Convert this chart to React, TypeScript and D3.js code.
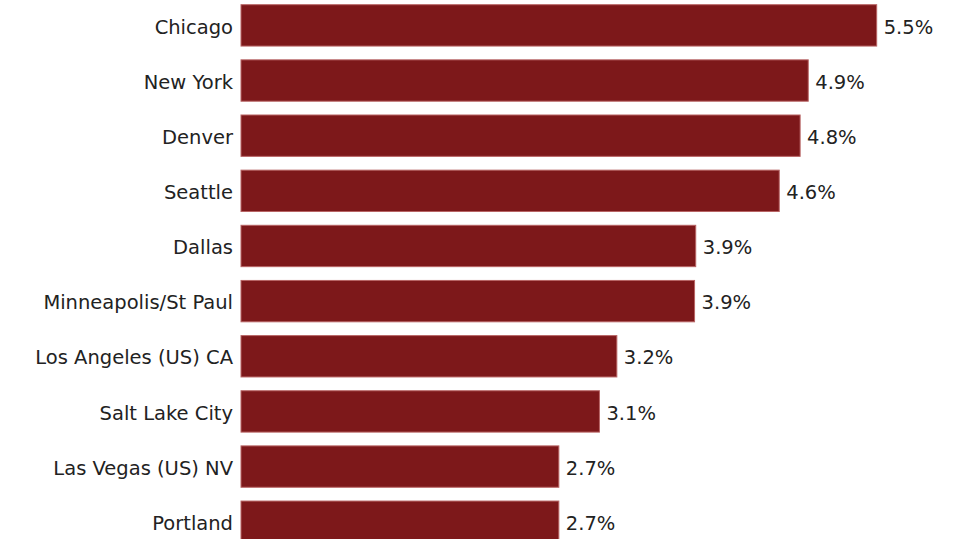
import React from 'react';
import * as d3 from 'd3';

const cities = [
  'Chicago',
  'New York',
  'Denver',
  'Seattle',
  'Dallas',
  'Minneapolis/St Paul',
  'Los Angeles (US) CA',
  'Salt Lake City',
  'Las Vegas (US) NV',
  'Portland',
];
const rates = [5.48, 4.89, 4.82, 4.64, 3.92, 3.91, 3.24, 3.09, 2.74, 2.74];

const WIDTH = 954;
const HEIGHT = 539;

const App: React.FC = () => {
  const x = d3.scaleLinear().domain([0, 6]).range([241, 937]);
  const y = d3
    .scaleBand<string>()
    .domain(cities)
    .range([-2.2, 549.3])
    .paddingInner(0.25)
    .paddingOuter(0.125);
  const fmt = (v: number) => d3.format('.1f')(v) + '%';
  const font = '"DejaVu Sans", Verdana, sans-serif';

  return (
    <svg
      width={WIDTH}
      height={HEIGHT}
      style={{ position: 'absolute', left: 0, top: 0, background: '#fff' }}
    >
      {cities.map((c, i) => {
        const yc = y(c)! + y.bandwidth() / 2;
        return (
          <g key={c}>
            <rect
              x={x(0)}
              y={y(c)!}
              width={x(rates[i]) - x(0)}
              height={y.bandwidth()}
              fill="#7d181a"
              stroke="#b86464"
              strokeWidth={1}
            />
            <text
              x={x(0) - 8}
              y={yc}
              dy="0.42em"
              textAnchor="end"
              fontFamily={font}
              fontSize={19.5}
              fill="#222"
            >
              {c}
            </text>
            <text
              x={x(rates[i]) + 7}
              y={yc}
              dy="0.42em"
              fontFamily={font}
              fontSize={19.5}
              fill="#222"
            >
              {fmt(rates[i])}
            </text>
          </g>
        );
      })}
    </svg>
  );
};

export default App;
